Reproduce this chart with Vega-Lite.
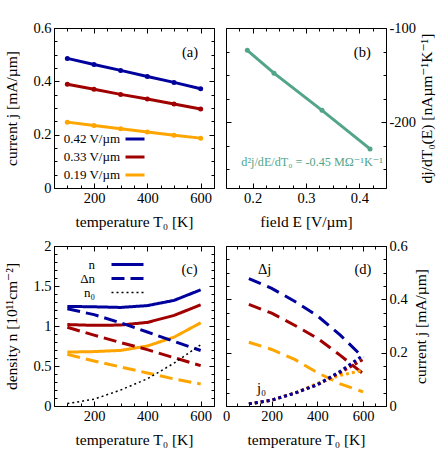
{
  "$schema": "https://vega.github.io/schema/vega-lite/v6.json",
  "padding": {"left": 4, "top": 19, "right": 0, "bottom": 0},
  "datasets": {
    "ja": [
      {"T": 100, "E": "0.42 V/µm", "j": 0.486}, {"T": 200, "E": "0.42 V/µm", "j": 0.463}, {"T": 300, "E": "0.42 V/µm", "j": 0.441},
      {"T": 400, "E": "0.42 V/µm", "j": 0.418}, {"T": 500, "E": "0.42 V/µm", "j": 0.396}, {"T": 600, "E": "0.42 V/µm", "j": 0.372},
      {"T": 100, "E": "0.33 V/µm", "j": 0.389}, {"T": 200, "E": "0.33 V/µm", "j": 0.370}, {"T": 300, "E": "0.33 V/µm", "j": 0.351},
      {"T": 400, "E": "0.33 V/µm", "j": 0.334}, {"T": 500, "E": "0.33 V/µm", "j": 0.315}, {"T": 600, "E": "0.33 V/µm", "j": 0.296},
      {"T": 100, "E": "0.19 V/µm", "j": 0.247}, {"T": 200, "E": "0.19 V/µm", "j": 0.234}, {"T": 300, "E": "0.19 V/µm", "j": 0.222},
      {"T": 400, "E": "0.19 V/µm", "j": 0.210}, {"T": 500, "E": "0.19 V/µm", "j": 0.198}, {"T": 600, "E": "0.19 V/µm", "j": 0.187}
    ],
    "db": [
      {"E": 0.19, "d": -123.7}, {"E": 0.24, "d": -148.0}, {"E": 0.33, "d": -187.5}, {"E": 0.42, "d": -228.5}
    ],
    "nc": [
      {"T": 100, "F": "0.42", "q": "n", "v": 1.245}, {"T": 200, "F": "0.42", "q": "n", "v": 1.240}, {"T": 300, "F": "0.42", "q": "n", "v": 1.232},
      {"T": 400, "F": "0.42", "q": "n", "v": 1.255}, {"T": 500, "F": "0.42", "q": "n", "v": 1.320}, {"T": 600, "F": "0.42", "q": "n", "v": 1.452},
      {"T": 100, "F": "0.33", "q": "n", "v": 1.018}, {"T": 200, "F": "0.33", "q": "n", "v": 1.008}, {"T": 300, "F": "0.33", "q": "n", "v": 1.012},
      {"T": 400, "F": "0.33", "q": "n", "v": 1.045}, {"T": 500, "F": "0.33", "q": "n", "v": 1.132}, {"T": 600, "F": "0.33", "q": "n", "v": 1.265},
      {"T": 100, "F": "0.19", "q": "n", "v": 0.674}, {"T": 200, "F": "0.19", "q": "n", "v": 0.680}, {"T": 300, "F": "0.19", "q": "n", "v": 0.695},
      {"T": 400, "F": "0.19", "q": "n", "v": 0.750}, {"T": 500, "F": "0.19", "q": "n", "v": 0.860}, {"T": 600, "F": "0.19", "q": "n", "v": 1.040},
      {"T": 100, "F": "0.42", "q": "Δn", "v": 1.215}, {"T": 200, "F": "0.42", "q": "Δn", "v": 1.142}, {"T": 300, "F": "0.42", "q": "Δn", "v": 1.040},
      {"T": 400, "F": "0.42", "q": "Δn", "v": 0.925}, {"T": 500, "F": "0.42", "q": "Δn", "v": 0.808}, {"T": 600, "F": "0.42", "q": "Δn", "v": 0.694},
      {"T": 100, "F": "0.33", "q": "Δn", "v": 0.984}, {"T": 200, "F": "0.33", "q": "Δn", "v": 0.886}, {"T": 300, "F": "0.33", "q": "Δn", "v": 0.792},
      {"T": 400, "F": "0.33", "q": "Δn", "v": 0.705}, {"T": 500, "F": "0.33", "q": "Δn", "v": 0.604}, {"T": 600, "F": "0.33", "q": "Δn", "v": 0.505},
      {"T": 100, "F": "0.19", "q": "Δn", "v": 0.645}, {"T": 200, "F": "0.19", "q": "Δn", "v": 0.563}, {"T": 300, "F": "0.19", "q": "Δn", "v": 0.488},
      {"T": 400, "F": "0.19", "q": "Δn", "v": 0.413}, {"T": 500, "F": "0.19", "q": "Δn", "v": 0.338}, {"T": 600, "F": "0.19", "q": "Δn", "v": 0.276}
    ],
    "n0c": [
      {"T": 100, "v": 0.030}, {"T": 200, "v": 0.085}, {"T": 300, "v": 0.200}, {"T": 400, "v": 0.340}, {"T": 500, "v": 0.535}, {"T": 600, "v": 0.765}
    ],
    "dd": [
      {"T": 100, "F": "0.42", "v": 0.478}, {"T": 200, "F": "0.42", "v": 0.441}, {"T": 300, "F": "0.42", "v": 0.393},
      {"T": 400, "F": "0.42", "v": 0.338}, {"T": 500, "F": "0.42", "v": 0.266}, {"T": 600, "F": "0.42", "v": 0.182},
      {"T": 100, "F": "0.33", "v": 0.381}, {"T": 200, "F": "0.33", "v": 0.348}, {"T": 300, "F": "0.33", "v": 0.303},
      {"T": 400, "F": "0.33", "v": 0.254}, {"T": 500, "F": "0.33", "v": 0.190}, {"T": 600, "F": "0.33", "v": 0.121},
      {"T": 100, "F": "0.19", "v": 0.239}, {"T": 200, "F": "0.19", "v": 0.212}, {"T": 300, "F": "0.19", "v": 0.175},
      {"T": 400, "F": "0.19", "v": 0.125}, {"T": 500, "F": "0.19", "v": 0.083}, {"T": 600, "F": "0.19", "v": 0.053}
    ],
    "j0d": [
      {"T": 100, "F": "0.19", "v": 0.008}, {"T": 200, "F": "0.19", "v": 0.022}, {"T": 300, "F": "0.19", "v": 0.048},
      {"T": 400, "F": "0.19", "v": 0.085}, {"T": 500, "F": "0.19", "v": 0.115}, {"T": 600, "F": "0.19", "v": 0.134},
      {"T": 100, "F": "0.33", "v": 0.008}, {"T": 200, "F": "0.33", "v": 0.022}, {"T": 300, "F": "0.33", "v": 0.048},
      {"T": 400, "F": "0.33", "v": 0.080}, {"T": 500, "F": "0.33", "v": 0.125}, {"T": 600, "F": "0.33", "v": 0.175},
      {"T": 100, "F": "0.42", "v": 0.008}, {"T": 200, "F": "0.42", "v": 0.022}, {"T": 300, "F": "0.42", "v": 0.048},
      {"T": 400, "F": "0.42", "v": 0.080}, {"T": 500, "F": "0.42", "v": 0.130}, {"T": 600, "F": "0.42", "v": 0.190}
    ]
  },
  "columns": 2,
  "spacing": {"row": 58, "column": 12},
  "bounds": "flush",
  "resolve": {"scale": {"color": "independent", "strokeDash": "independent"}, "legend": {"color": "independent", "strokeDash": "independent"}},
  "concat": [
    {
      "width": 160, "height": 160,
      "resolve": {"axis": {"x": "independent", "y": "independent"}},
      "layer": [
        {
          "data": {"name": "ja"},
          "mark": {"type": "line", "strokeWidth": 3},
          "encoding": {
            "x": {"field": "T", "type": "quantitative", "scale": {"domain": [50, 650], "nice": false}, "axis": {"orient": "bottom", "values": [200, 400, 600], "title": "temperature T₀ [K]", "titlePadding": 10, "labelExpr": "'' + datum.value"}},
            "y": {"field": "j", "type": "quantitative", "scale": {"domain": [0, 0.6], "nice": false}, "axis": {"orient": "left", "values": [0, 0.2, 0.4, 0.6], "title": "current j [mA/µm]", "titlePadding": 13, "labelExpr": "'' + datum.value"}},
            "color": {"field": "E", "type": "nominal", "scale": {"domain": ["0.42 V/µm", "0.33 V/µm", "0.19 V/µm"], "range": ["#00009c", "#a00000", "#ffa500"]},
              "legend": {"orient": "none", "legendX": 70, "legendY": 100, "title": null, "symbolType": "stroke", "symbolSize": 361, "symbolStrokeWidth": 3, "labelAlign": "right", "labelOffset": -26, "rowPadding": -2.5, "labelFontSize": 13}}
          }
        },
        {
          "data": {"name": "ja"},
          "mark": {"type": "point", "filled": true, "size": 25, "opacity": 1},
          "encoding": {
            "x": {"field": "T", "type": "quantitative", "scale": {"domain": [50, 650], "nice": false}, "axis": null},
            "y": {"field": "j", "type": "quantitative", "scale": {"domain": [0, 0.6], "nice": false}, "axis": null},
            "color": {"field": "E", "type": "nominal", "legend": null}
          }
        },
        {
          "data": {"name": "ja"},
          "mark": {"type": "point", "opacity": 0},
          "encoding": {
            "x": {"field": "T", "type": "quantitative", "scale": {"domain": [50, 650], "nice": false}, "axis": {"orient": "bottom", "values": [50,100,150,200,250,300,350,400,450,500,550,600,650], "tickSize": -3, "labels": false, "title": null}},
            "y": {"field": "j", "type": "quantitative", "scale": {"domain": [0, 0.6], "nice": false}, "axis": {"orient": "left", "values": [0.05,0.1,0.15,0.2,0.25,0.3,0.35,0.4,0.45,0.5,0.55], "tickSize": -3, "labels": false, "title": null}}
          }
        },
        {
          "data": {"name": "ja"},
          "mark": {"type": "point", "opacity": 0},
          "encoding": {
            "x": {"field": "T", "type": "quantitative", "scale": {"domain": [50, 650], "nice": false}, "axis": {"orient": "top", "values": [200, 400, 600], "labels": false, "title": null}},
            "y": {"field": "j", "type": "quantitative", "scale": {"domain": [0, 0.6], "nice": false}, "axis": {"orient": "right", "values": [0, 0.2, 0.4, 0.6], "labels": false, "title": null}}
          }
        },
        {
          "data": {"name": "ja"},
          "mark": {"type": "point", "opacity": 0},
          "encoding": {
            "x": {"field": "T", "type": "quantitative", "scale": {"domain": [50, 650], "nice": false}, "axis": {"orient": "top", "values": [50,100,150,200,250,300,350,400,450,500,550,600,650], "tickSize": -3, "labels": false, "title": null}},
            "y": {"field": "j", "type": "quantitative", "scale": {"domain": [0, 0.6], "nice": false}, "axis": {"orient": "right", "values": [0.05,0.1,0.15,0.2,0.25,0.3,0.35,0.4,0.45,0.5,0.55], "tickSize": -3, "labels": false, "title": null}}
          }
        },
        {
          "data": {"values": [{"x": 560, "y": 0.505, "t": "(a)"}]},
          "mark": {"type": "text", "align": "center", "baseline": "middle"},
          "encoding": {
            "x": {"field": "x", "type": "quantitative", "scale": {"domain": [50, 650], "nice": false}, "axis": null},
            "y": {"field": "y", "type": "quantitative", "scale": {"domain": [0, 0.6], "nice": false}, "axis": null},
            "text": {"field": "t", "type": "nominal"}
          }
        }
      ]
    },
    {
      "width": 160, "height": 160,
      "resolve": {"axis": {"x": "independent", "y": "independent"}},
      "layer": [
        {
          "data": {"name": "db"},
          "mark": {"type": "line", "strokeWidth": 3, "color": "#52a58a"},
          "encoding": {
            "x": {"field": "E", "type": "quantitative", "scale": {"domain": [0.15, 0.45], "nice": false, "zero": false}, "axis": {"orient": "bottom", "values": [0.2, 0.3, 0.4], "title": "field E [V/µm]", "titlePadding": 10, "labelExpr": "'' + datum.value"}},
            "y": {"field": "d", "type": "quantitative", "scale": {"domain": [-270, -100], "nice": false, "zero": false}, "axis": {"orient": "right", "values": [-100, -200], "title": "dj/dT₀(E) [nAµm⁻¹K⁻¹]", "titleAngle": 270, "titleBaseline": "top", "titlePadding": 4, "labelExpr": "'' + datum.value"}}
          }
        },
        {
          "data": {"name": "db"},
          "mark": {"type": "point", "filled": true, "size": 25, "opacity": 1, "color": "#52a58a"},
          "encoding": {
            "x": {"field": "E", "type": "quantitative", "scale": {"domain": [0.15, 0.45], "nice": false, "zero": false}, "axis": null},
            "y": {"field": "d", "type": "quantitative", "scale": {"domain": [-270, -100], "nice": false, "zero": false}, "axis": null}
          }
        },
        {
          "data": {"name": "db"},
          "mark": {"type": "point", "opacity": 0},
          "encoding": {
            "x": {"field": "E", "type": "quantitative", "scale": {"domain": [0.15, 0.45], "nice": false, "zero": false}, "axis": {"orient": "bottom", "values": [0.15,0.175,0.2,0.225,0.25,0.275,0.3,0.325,0.35,0.375,0.4,0.425,0.45], "tickSize": -3, "labels": false, "title": null}},
            "y": {"field": "d", "type": "quantitative", "scale": {"domain": [-270, -100], "nice": false, "zero": false}, "axis": {"orient": "right", "values": [-125, -150, -175, -225, -250], "tickSize": -3, "labels": false, "title": null}}
          }
        },
        {
          "data": {"name": "db"},
          "mark": {"type": "point", "opacity": 0},
          "encoding": {
            "x": {"field": "E", "type": "quantitative", "scale": {"domain": [0.15, 0.45], "nice": false, "zero": false}, "axis": {"orient": "top", "values": [0.2, 0.3, 0.4], "labels": false, "title": null}},
            "y": {"field": "d", "type": "quantitative", "scale": {"domain": [-270, -100], "nice": false, "zero": false}, "axis": {"orient": "left", "values": [-100, -200], "labels": false, "title": null}}
          }
        },
        {
          "data": {"name": "db"},
          "mark": {"type": "point", "opacity": 0},
          "encoding": {
            "x": {"field": "E", "type": "quantitative", "scale": {"domain": [0.15, 0.45], "nice": false, "zero": false}, "axis": {"orient": "top", "values": [0.15,0.175,0.2,0.225,0.25,0.275,0.3,0.325,0.35,0.375,0.4,0.425,0.45], "tickSize": -3, "labels": false, "title": null}},
            "y": {"field": "d", "type": "quantitative", "scale": {"domain": [-270, -100], "nice": false, "zero": false}, "axis": {"orient": "left", "values": [-125, -150, -175, -225, -250], "tickSize": -3, "labels": false, "title": null}}
          }
        },
        {
          "data": {"values": [{"x": 0.4056, "y": -126.8, "t": "(b)"}]},
          "mark": {"type": "text", "align": "center", "baseline": "middle"},
          "encoding": {
            "x": {"field": "x", "type": "quantitative", "scale": {"domain": [0.15, 0.45], "nice": false, "zero": false}, "axis": null},
            "y": {"field": "y", "type": "quantitative", "scale": {"domain": [-270, -100], "nice": false, "zero": false}, "axis": null},
            "text": {"field": "t", "type": "nominal"}
          }
        },
        {
          "data": {"values": [{"x": 0.1787, "y": -242, "t": "d²j/dE/dT₀ = -0.45 MΩ⁻¹K⁻¹"}]},
          "mark": {"type": "text", "align": "left", "baseline": "middle", "color": "#52a58a", "fontSize": 12.2},
          "encoding": {
            "x": {"field": "x", "type": "quantitative", "scale": {"domain": [0.15, 0.45], "nice": false, "zero": false}, "axis": null},
            "y": {"field": "y", "type": "quantitative", "scale": {"domain": [-270, -100], "nice": false, "zero": false}, "axis": null},
            "text": {"field": "t", "type": "nominal"}
          }
        }
      ]
    },
    {
      "width": 160, "height": 160,
      "resolve": {"axis": {"x": "independent", "y": "independent"}},
      "layer": [
        {
          "data": {"name": "nc"},
          "mark": {"type": "line", "strokeWidth": 3},
          "encoding": {
            "x": {"field": "T", "type": "quantitative", "scale": {"domain": [50, 650], "nice": false}, "axis": {"orient": "bottom", "values": [200, 400, 600], "title": "temperature T₀ [K]", "titlePadding": 10, "labelExpr": "'' + datum.value"}},
            "y": {"field": "v", "type": "quantitative", "scale": {"domain": [0, 2], "nice": false}, "axis": {"orient": "left", "values": [0, 0.5, 1, 1.5, 2], "title": "density n [10¹¹cm⁻²]", "titlePadding": 13, "labelExpr": "'' + datum.value"}},
            "color": {"field": "F", "type": "nominal", "scale": {"domain": ["0.42", "0.33", "0.19"], "range": ["#00009c", "#a00000", "#ffa500"]}, "legend": null},
            "strokeDash": {"field": "q", "type": "nominal", "scale": {"domain": ["n", "Δn", "n₀"], "range": [[1, 0], [13, 6], [2, 3]]},
              "legend": {"orient": "none", "legendX": 67, "legendY": 12, "title": null, "symbolType": "stroke", "symbolSize": 1024, "symbolStrokeWidth": 3, "labelAlign": "right", "labelOffset": -39, "rowPadding": 0, "labelFontSize": 13,
                "encode": {"symbols": {"update": {"stroke": {"signal": "datum.value === 'n₀' ? 'black' : '#00009c'"}, "strokeWidth": {"signal": "datum.value === 'n₀' ? 1.5 : 3"}}}}}}
          }
        },
        {
          "data": {"name": "n0c"},
          "mark": {"type": "line", "strokeWidth": 1.5, "color": "black", "strokeDash": [2, 3]},
          "encoding": {
            "x": {"field": "T", "type": "quantitative", "scale": {"domain": [50, 650], "nice": false}, "axis": null},
            "y": {"field": "v", "type": "quantitative", "scale": {"domain": [0, 2], "nice": false}, "axis": null}
          }
        },
        {
          "data": {"name": "n0c"},
          "mark": {"type": "point", "opacity": 0},
          "encoding": {
            "x": {"field": "T", "type": "quantitative", "scale": {"domain": [50, 650], "nice": false}, "axis": {"orient": "bottom", "values": [50,100,150,200,250,300,350,400,450,500,550,600,650], "tickSize": -3, "labels": false, "title": null}},
            "y": {"field": "v", "type": "quantitative", "scale": {"domain": [0, 2], "nice": false}, "axis": {"orient": "left", "values": [0.1,0.2,0.3,0.4,0.5,0.6,0.7,0.8,0.9,1,1.1,1.2,1.3,1.4,1.5,1.6,1.7,1.8,1.9], "tickSize": -3, "labels": false, "title": null}}
          }
        },
        {
          "data": {"name": "n0c"},
          "mark": {"type": "point", "opacity": 0},
          "encoding": {
            "x": {"field": "T", "type": "quantitative", "scale": {"domain": [50, 650], "nice": false}, "axis": {"orient": "top", "values": [200, 400, 600], "labels": false, "title": null}},
            "y": {"field": "v", "type": "quantitative", "scale": {"domain": [0, 2], "nice": false}, "axis": {"orient": "right", "values": [0, 0.5, 1, 1.5, 2], "labels": false, "title": null}}
          }
        },
        {
          "data": {"name": "n0c"},
          "mark": {"type": "point", "opacity": 0},
          "encoding": {
            "x": {"field": "T", "type": "quantitative", "scale": {"domain": [50, 650], "nice": false}, "axis": {"orient": "top", "values": [50,100,150,200,250,300,350,400,450,500,550,600,650], "tickSize": -3, "labels": false, "title": null}},
            "y": {"field": "v", "type": "quantitative", "scale": {"domain": [0, 2], "nice": false}, "axis": {"orient": "right", "values": [0.1,0.2,0.3,0.4,0.5,0.6,0.7,0.8,0.9,1,1.1,1.2,1.3,1.4,1.5,1.6,1.7,1.8,1.9], "tickSize": -3, "labels": false, "title": null}}
          }
        },
        {
          "data": {"values": [{"x": 558, "y": 1.696, "t": "(c)"}]},
          "mark": {"type": "text", "align": "center", "baseline": "middle"},
          "encoding": {
            "x": {"field": "x", "type": "quantitative", "scale": {"domain": [50, 650], "nice": false}, "axis": null},
            "y": {"field": "y", "type": "quantitative", "scale": {"domain": [0, 2], "nice": false}, "axis": null},
            "text": {"field": "t", "type": "nominal"}
          }
        }
      ]
    },
    {
      "width": 160, "height": 160,
      "resolve": {"axis": {"x": "independent", "y": "independent"}},
      "layer": [
        {
          "data": {"name": "dd"},
          "mark": {"type": "line", "strokeWidth": 3, "strokeDash": [13, 7]},
          "encoding": {
            "x": {"field": "T", "type": "quantitative", "scale": {"domain": [0, 700], "nice": false}, "axis": {"orient": "bottom", "values": [0, 200, 400, 600], "title": "temperature T₀ [K]", "titlePadding": 10, "labelExpr": "'' + datum.value"}},
            "y": {"field": "v", "type": "quantitative", "scale": {"domain": [0, 0.6], "nice": false}, "axis": {"orient": "right", "values": [0, 0.2, 0.4, 0.6], "title": "current j [mA/µm]", "titleAngle": 270, "titleBaseline": "top", "titlePadding": 6, "labelExpr": "'' + datum.value"}},
            "color": {"field": "F", "type": "nominal", "scale": {"domain": ["0.42", "0.33", "0.19"], "range": ["#00009c", "#a00000", "#ffa500"]}, "legend": null}
          }
        },
        {
          "data": {"name": "j0d"},
          "mark": {"type": "line", "strokeWidth": 3, "strokeDash": [3, 3]},
          "encoding": {
            "x": {"field": "T", "type": "quantitative", "scale": {"domain": [0, 700], "nice": false}, "axis": null},
            "y": {"field": "v", "type": "quantitative", "scale": {"domain": [0, 0.6], "nice": false}, "axis": null},
            "color": {"field": "F", "type": "nominal", "legend": null}
          }
        },
        {
          "data": {"name": "dd"},
          "mark": {"type": "point", "opacity": 0},
          "encoding": {
            "x": {"field": "T", "type": "quantitative", "scale": {"domain": [0, 700], "nice": false}, "axis": {"orient": "bottom", "values": [0,50,100,150,200,250,300,350,400,450,500,550,600,650,700], "tickSize": -3, "labels": false, "title": null}},
            "y": {"field": "v", "type": "quantitative", "scale": {"domain": [0, 0.6], "nice": false}, "axis": {"orient": "right", "values": [0.05,0.1,0.15,0.2,0.25,0.3,0.35,0.4,0.45,0.5,0.55], "tickSize": -3, "labels": false, "title": null}}
          }
        },
        {
          "data": {"name": "dd"},
          "mark": {"type": "point", "opacity": 0},
          "encoding": {
            "x": {"field": "T", "type": "quantitative", "scale": {"domain": [0, 700], "nice": false}, "axis": {"orient": "top", "values": [0, 200, 400, 600], "labels": false, "title": null}},
            "y": {"field": "v", "type": "quantitative", "scale": {"domain": [0, 0.6], "nice": false}, "axis": {"orient": "left", "values": [0, 0.2, 0.4, 0.6], "labels": false, "title": null}}
          }
        },
        {
          "data": {"name": "dd"},
          "mark": {"type": "point", "opacity": 0},
          "encoding": {
            "x": {"field": "T", "type": "quantitative", "scale": {"domain": [0, 700], "nice": false}, "axis": {"orient": "top", "values": [0,50,100,150,200,250,300,350,400,450,500,550,600,650,700], "tickSize": -3, "labels": false, "title": null}},
            "y": {"field": "v", "type": "quantitative", "scale": {"domain": [0, 0.6], "nice": false}, "axis": {"orient": "left", "values": [0.05,0.1,0.15,0.2,0.25,0.3,0.35,0.4,0.45,0.5,0.55], "tickSize": -3, "labels": false, "title": null}}
          }
        },
        {
          "data": {"values": [{"x": 599, "y": 0.509, "t": "(d)"}, {"x": 169, "y": 0.509, "t": "Δj"}, {"x": 155, "y": 0.062, "t": "j₀"}]},
          "mark": {"type": "text", "align": "center", "baseline": "middle"},
          "encoding": {
            "x": {"field": "x", "type": "quantitative", "scale": {"domain": [0, 700], "nice": false}, "axis": null},
            "y": {"field": "y", "type": "quantitative", "scale": {"domain": [0, 0.6], "nice": false}, "axis": null},
            "text": {"field": "t", "type": "nominal"}
          }
        }
      ]
    }
  ],
  "config": {
    "font": "Liberation Serif, DejaVu Serif, serif",
    "view": {"stroke": "black", "strokeWidth": 1},
    "axis": {"labelFont": "Liberation Serif, DejaVu Serif, serif", "titleFont": "Liberation Serif, DejaVu Serif, serif", "labelFontSize": 14.5, "titleFontSize": 15.5, "titleFontWeight": "normal", "labelColor": "black", "titleColor": "black", "tickColor": "black", "tickWidth": 1, "domain": false, "grid": false, "tickSize": -5, "labelPadding": 8, "labelFlush": false, "labelOverlap": false},
    "legend": {"labelFont": "Liberation Serif, DejaVu Serif, serif", "labelFontSize": 13, "labelColor": "black", "padding": 0},
    "text": {"font": "Liberation Serif, DejaVu Serif, serif", "fontSize": 14.5, "color": "black"}
  }
}
